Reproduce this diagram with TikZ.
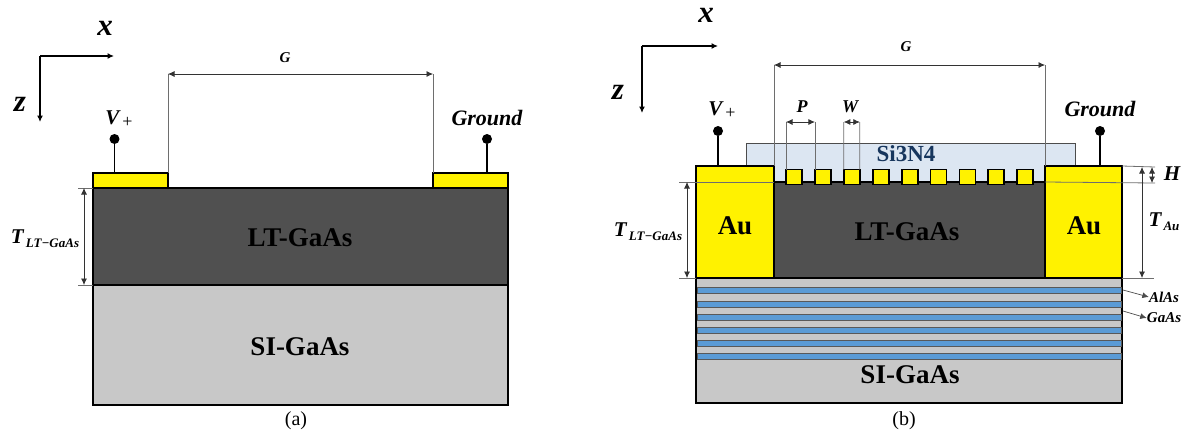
\documentclass[tikz,border=0pt]{standalone}
\usepackage{fontspec}
\setmainfont{Liberation Serif}
\usetikzlibrary{positioning,arrows.meta,arrows}
\definecolor{ltgaas}{HTML}{505050}
\definecolor{sigaas}{HTML}{C8C8C8}
\definecolor{alas}{HTML}{5B9BD5}
\definecolor{sinitride}{HTML}{DCE6F2}
\definecolor{sitext}{HTML}{17365D}
\definecolor{dimgray}{HTML}{6E6E6E}
\newcommand{\sublab}[2]{#1{\fontsize{13}{13}\selectfont\raisebox{-4pt}{\,#2}}}
\newcommand{\plusmark}{{\fontsize{18}{18}\selectfont\mdseries\upshape\raisebox{-3pt}{\,+}}}
\tikzset{
layer/.style={
  draw=black,
  line width=2.3pt,
  anchor=north west,
  inner sep=0pt,
  outer sep=0pt
  },
fingerbox/.style={
  layer,
  fill=yellow,
  line width=1.8pt,
  minimum width=16pt,
  minimum height=15pt
  },
layertext/.style={
  font=\bfseries\fontsize{27}{27}\selectfont
  },
mathlab/.style={
  font=\bfseries\itshape\fontsize{21}{21}\selectfont,
  inner sep=0pt
  },
gndlab/.style={
  font=\bfseries\itshape\fontsize{22}{22}\selectfont,
  inner sep=0pt
  },
smalllab/.style={
  font=\bfseries\itshape\fontsize{15}{15}\selectfont,
  inner sep=0pt
  },
axislab/.style={
  font=\bfseries\itshape\fontsize{31}{31}\selectfont,
  inner sep=0pt
  },
caplab/.style={
  font=\fontsize{20}{20}\selectfont,
  inner sep=0pt
  },
pin/.style={
  circle,
  fill=black,
  inner sep=0pt,
  minimum size=10pt
  },
stem/.style={line width=1.3pt},
axisline/.style={->,line width=1.3pt},
dimext/.style={draw=dimgray,line width=0.8pt},
dimarr/.style={<->,line width=0.7pt,draw=black!80}
}
\begin{document}
\begin{tikzpicture}[>={Latex[length=6.5pt,width=6pt]},x=1pt,y=-1pt]
\useasboundingbox (0,0) rectangle (1186,440);

% left device
\node[layer,fill=sigaas,minimum width=415pt,minimum height=120pt]
at (93,285) (subA) {};
\node[layer,fill=ltgaas,minimum width=415pt,minimum height=97pt]
at (93,188) (ltA) {};
\node[layer,fill=yellow,minimum width=75pt,minimum height=15pt]
at (93,173) (padA1) {};
\node[layer,fill=yellow,minimum width=75pt,minimum height=15pt]
at (433,173) (padA2) {};
\node[layertext] at (300,238) (ltAText) {LT-GaAs};
\node[layertext] at (300,347) (subAText) {SI-GaAs};

\coordinate (axisA) at (40,56);
\coordinate (axisAx) at (114,56);
\coordinate (axisAz) at (40,122);
\draw[axisline] (axisA) -- (axisAx);
\draw[axisline] (axisA) -- (axisAz);
\node[axislab] at (105,28) (xA) {x};
\node[axislab] at (20,104) (zA) {z};

\node[pin] at (114.5,139) (pinA1) {};
\node[pin] at (487,139) (pinA2) {};
\draw[stem] (pinA1) -- (pinA1 |- padA1.north);
\draw[stem] (pinA2) -- (pinA2 |- padA2.north);
\node[mathlab] at (119,119) (vA) {V\plusmark};
\node[gndlab] at (487,118) (gndA) {Ground};

\coordinate (gA1) at (168,74);
\coordinate (gA2) at (433,74);
\draw[dimext] (gA1) -- (padA1.north east);
\draw[dimext] (gA2) -- (padA2.north west);
\draw[dimarr] (gA1) -- (gA2);
\node[smalllab] at (285,58) (gAText) {G};

\coordinate (tA1) at (84,188);
\coordinate (tA2) at (84,285);
\draw[dimext] (78,188) -- (ltA.north west);
\draw[dimext] (78,285) -- (ltA.south west);
\draw[dimarr] (tA1) -- (tA2);
\node[mathlab] at (45,239) (tAText) {\sublab{T}{LT−GaAs}};
\node[caplab] at (296,421) (capA) {(a)};

% right device
\node[layer,draw=black!70,line width=0.8pt,fill=sinitride,minimum width=329pt,minimum height=39pt]
at (746,143) (sinA) {};
\node[layer,fill=sigaas,minimum width=426pt,minimum height=125pt]
at (696,278) (subB) {};
\foreach \yb in {287,301,314,327,340,353}
  \draw[fill=alas,draw=black!65,line width=0.7pt] (697,\yb) rectangle (1121,\yb+6);
\node[layer,fill=ltgaas,minimum width=271pt,minimum height=96pt]
at (774,182) (ltB) {};
\node[layer,fill=yellow,minimum width=78pt,minimum height=112pt]
at (696,166) (auB1) {};
\node[layer,fill=yellow,minimum width=77pt,minimum height=112pt]
at (1045,166) (auB2) {};
\foreach \i in {1,...,9}
  \node[fingerbox] at ({786+28.9*(\i-1)},169.5) (finger\i) {};
\node[layertext] at (735,226) (auB1Text) {Au};
\node[layertext] at (1084,226) (auB2Text) {Au};
\node[layertext] at (907,232) (ltBText) {LT-GaAs};
\node[layertext] at (910,375) (subBText) {SI-GaAs};
\node[font=\bfseries\fontsize{23}{23}\selectfont,text=sitext] at (906,154) (sinText) {Si3N4};

\coordinate (axisB) at (642,46);
\coordinate (axisBx) at (718,46);
\coordinate (axisBz) at (642,113);
\draw[axisline] (axisB) -- (axisBx);
\draw[axisline] (axisB) -- (axisBz);
\node[axislab] at (706,15) (xB) {x};
\node[axislab] at (618,92) (zB) {z};

\node[pin] at (718,131) (pinB1) {};
\node[pin] at (1100,131) (pinB2) {};
\draw[stem] (pinB1) -- (pinB1 |- auB1.north);
\draw[stem] (pinB2) -- (pinB2 |- auB2.north);
\node[mathlab] at (722,110) (vB) {V\plusmark};
\node[gndlab] at (1100,109) (gndB) {Ground};

\coordinate (gB1) at (774,65);
\coordinate (gB2) at (1045,65);
\draw[dimext] (gB1) -- (auB1.north east);
\draw[dimext] (gB2) -- (auB2.north west);
\draw[dimarr] (gB1) -- (gB2);
\node[smalllab] at (906,47) (gBText) {G};

\coordinate (pB1) at (786,122);
\coordinate (pB2) at (814.9,122);
\coordinate (wB1) at (843.8,122);
\coordinate (wB2) at (859.8,122);
\draw[dimext] (pB1) -- (finger1.north west);
\draw[dimext] (pB2) -- (finger2.north west);
\draw[dimext] (wB1) -- (finger3.north west);
\draw[dimext] (wB2) -- (finger3.north east);
\draw[dimarr] (pB1) -- (pB2);
\draw[dimarr] (wB1) -- (wB2);
\node[smalllab,font=\bfseries\itshape\fontsize{18}{18}\selectfont] at (802,107) (pBText) {P};
\node[smalllab,font=\bfseries\itshape\fontsize{18}{18}\selectfont] at (850,107) (wBText) {W};

\coordinate (tB1) at (687,182);
\coordinate (tB2) at (687,278);
\draw[dimext] (679,182) -- (ltB.north west);
\draw[dimext] (679,278) -- (auB1.south west);
\draw[dimarr] (tB1) -- (tB2);
\node[mathlab] at (648,232) (tBText) {\sublab{T}{LT−GaAs}};

\coordinate (hB1) at (1152,167);
\coordinate (hB2) at (1152,183);
\coordinate (tauB1) at (1142,167);
\coordinate (tauB2) at (1142,278);
\draw[dimext] (auB2.north east) -- (1155,167);
\draw[dimext] (ltB.north east) -- (1155,183);
\draw[dimext] (auB2.south east) -- (1154,278);
\draw[dimarr] (hB1) -- (hB2);
\draw[dimarr] (tauB1) -- (tauB2);
\node[mathlab] at (1172,174) (hBText) {H};
\node[mathlab] at (1164,222) (tauBText) {\sublab{T}{Au}};

\node[smalllab] at (1164,297) (alasText) {AlAs};
\node[smalllab] at (1164,318) (gaasText) {GaAs};
\coordinate (alasFrom) at (1123,290);
\coordinate (gaasFrom) at (1123,311);
\draw[->,draw=black!70,line width=0.7pt] (alasFrom) -- (alasText.west);
\draw[->,draw=black!70,line width=0.7pt] (gaasFrom) -- (gaasText.west);
\node[caplab] at (904,421) (capB) {(b)};
\end{tikzpicture}
\end{document}
